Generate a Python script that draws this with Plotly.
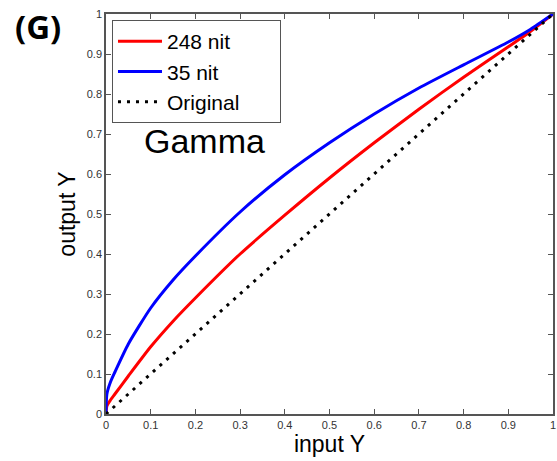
import plotly.graph_objects as go

# Data
input_y = [0.0, 0.002, 0.01, 0.02, 0.05, 0.1, 0.15, 0.2, 0.3, 0.4, 0.5, 0.6, 0.7, 0.8, 0.9, 0.95, 1.0]
out_248nit = [0.0, 0.02, 0.035, 0.05, 0.095, 0.168, 0.232, 0.29, 0.40, 0.497, 0.59, 0.678, 0.762, 0.842, 0.918, 0.957, 1.0]
out_35nit = [0.0, 0.05, 0.08, 0.105, 0.175, 0.265, 0.335, 0.395, 0.505, 0.598, 0.678, 0.75, 0.815, 0.873, 0.93, 0.962, 1.0]
orig_x = [0.0, 1.0]
orig_y = [0.0, 1.0]
tick_vals = [0, 0.1, 0.2, 0.3, 0.4, 0.5, 0.6, 0.7, 0.8, 0.9, 1]
tick_text = ["0", "0.1", "0.2", "0.3", "0.4", "0.5", "0.6", "0.7", "0.8", "0.9", "1"]

FONT = "Liberation Sans, Arial, sans-serif"
PAD = "\u00a0" * 6  # widens the legend box like the reference

fig = go.Figure()
fig.add_trace(go.Scatter(x=input_y, y=out_248nit, mode="lines", name="248 nit",
                         line=dict(color="#ff0000", width=3, shape="spline", smoothing=0.6)))
fig.add_trace(go.Scatter(x=input_y, y=out_35nit, mode="lines", name="35 nit",
                         line=dict(color="#0000ff", width=3, shape="spline", smoothing=0.6)))
fig.add_trace(go.Scatter(x=orig_x, y=orig_y, mode="lines", name="Original" + PAD,
                         line=dict(color="#000000", width=3, dash="3px,6px")))

axis_common = dict(
    range=[0, 1], tickvals=tick_vals, ticktext=tick_text,
    ticks="inside", ticklen=5, tickwidth=1, tickcolor="#555",
    showline=True, linecolor="#555", linewidth=1.5, mirror="ticks",
    showgrid=False, zeroline=False,
    tickfont=dict(family=FONT, size=11, color="#333"),
)

fig.update_layout(
    width=557, height=461,
    margin=dict(l=106, r=2, t=14, b=47),
    paper_bgcolor="white", plot_bgcolor="white",
    font=dict(family=FONT, color="#000"),
    xaxis=dict(**axis_common, title=dict(text="input Y", font=dict(family=FONT, size=23, color="#000"), standoff=2)),
    yaxis=dict(**axis_common, title=dict(text="output Y", font=dict(family=FONT, size=23, color="#000"), standoff=5)),
    legend=dict(x=0.0134, y=0.985, xanchor="left", yanchor="top",
                bgcolor="white", bordercolor="#555", borderwidth=1,
                font=dict(family=FONT, size=21, color="#000"),
                tracegroupgap=0, itemwidth=44),
    showlegend=True,
)

fig.add_annotation(text="Gamma", x=0.2205, y=0.6825, xref="x", yref="y",
                   showarrow=False, font=dict(family=FONT, size=34, color="#000"),
                   xanchor="center", yanchor="middle")
fig.add_annotation(text="<b>(G)</b>", x=-0.209, y=1.03, xref="paper", yref="paper",
                   showarrow=False, font=dict(family="Open Sans, sans-serif", size=33, color="#000"),
                   xanchor="left", yanchor="top")

fig.write_html("out.html")
